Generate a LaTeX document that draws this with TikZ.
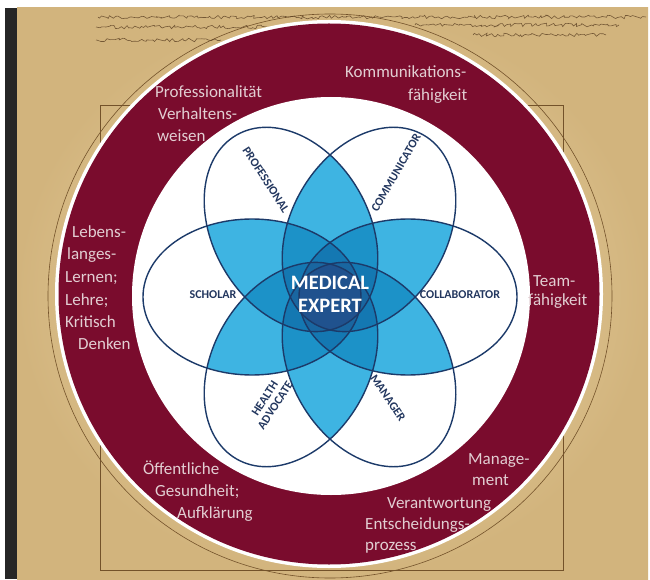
\documentclass[tikz,border=0pt]{standalone}
\usepackage{fontspec}
\setmainfont{Carlito}
\usetikzlibrary{calc,decorations.pathmorphing}
\definecolor{maroon}{RGB}{122,12,45}
\definecolor{parchA}{RGB}{238,220,176}
\definecolor{parchB}{RGB}{210,180,125}
\definecolor{ink}{RGB}{115,82,42}
\definecolor{scrib}{RGB}{85,58,30}
\definecolor{bandtext}{RGB}{226,206,210}
\definecolor{navy}{RGB}{28,58,105}
\definecolor{labelc}{RGB}{35,55,95}
\definecolor{bA}{RGB}{62,180,226}
\definecolor{bB}{RGB}{28,146,200}
\definecolor{bC}{RGB}{20,120,178}
\definecolor{bD}{RGB}{25,102,160}
\definecolor{bE}{RGB}{32,82,142}
\newcommand\pc{78}
\newcommand\pa{109}
\newcommand\pb{78}
\newcommand\clippetal[1]{\clip[rotate around={#1:(FC)}] ($(FC)+(\pc,0)$) ellipse [x radius=\pa pt, y radius=\pb pt];}
\begin{document}
\begin{tikzpicture}[x=1pt,y=1pt,
  bandtxt/.style={text=bandtext, font=\fontsize{17}{20}\selectfont, inner sep=0pt, anchor=base west},
  petaltxt/.style={text=labelc, font=\bfseries\fontsize{12}{12.5}\selectfont, inner sep=0pt, align=center},
  petalline/.style={draw=navy, line width=1.4pt},
  sketch/.style={draw=ink, line width=0.6pt},
  scribble/.style={draw=scrib, line width=0.6pt, opacity=0.75, decorate, decoration={random steps, amplitude=1.8pt, segment length=2.5pt}}]
\useasboundingbox (0,0) rectangle (650,579);
\fill[white] (0,0) rectangle (650,579);
\shade[inner color=parchA, outer color=parchB] (17,0) rectangle (648,571);
\fill[black!85] (5,0) rectangle (17,571);
% old drawing
\draw[sketch] (100,474) -- (100,9) -- (563,9) -- (563,474) -- cycle;
\draw[sketch] (330,283) circle (282);
\draw[scribble] (98,562) -- (646,562);
\draw[scribble] (96,552) -- (267,552);
\draw[scribble] (96,539) -- (221,539);
\draw[scribble] (415,554) -- (619,554);
\draw[scribble] (473,544) -- (606,544);
% rings
\fill[white] (329,285) circle (274);
\fill[maroon] (329,285) circle (270.5);
\fill[white] (331,283) circle (199);
\coordinate (FC) at (330,282);
% overlap layers
\foreach \i in {0,...,4}{
  \pgfmathtruncatemacro\ii{\i+1}
  \foreach \j in {\ii,...,5}{
    \begin{scope}
      \pgfmathtruncatemacro\ai{\i*60}\pgfmathtruncatemacro\aj{\j*60}
      \clippetal{\ai}\clippetal{\aj}
      \fill[bA] (0,0) rectangle (650,579);
    \end{scope}
  }
}
\foreach \i in {0,...,3}{
  \pgfmathtruncatemacro\ii{\i+1}
  \foreach \j in {\ii,...,4}{
    \pgfmathtruncatemacro\jj{\j+1}
    \foreach \k in {\jj,...,5}{
      \begin{scope}
        \pgfmathtruncatemacro\ai{\i*60}\pgfmathtruncatemacro\aj{\j*60}\pgfmathtruncatemacro\ak{\k*60}
        \clippetal{\ai}\clippetal{\aj}\clippetal{\ak}
        \fill[bB] (0,0) rectangle (650,579);
      \end{scope}
    }
  }
}
\foreach \i in {0,...,2}{
  \pgfmathtruncatemacro\ii{\i+1}
  \foreach \j in {\ii,...,3}{
    \pgfmathtruncatemacro\jj{\j+1}
    \foreach \k in {\jj,...,4}{
      \pgfmathtruncatemacro\kk{\k+1}
      \foreach \l in {\kk,...,5}{
        \begin{scope}
          \pgfmathtruncatemacro\ai{\i*60}\pgfmathtruncatemacro\aj{\j*60}\pgfmathtruncatemacro\ak{\k*60}\pgfmathtruncatemacro\al{\l*60}
          \clippetal{\ai}\clippetal{\aj}\clippetal{\ak}\clippetal{\al}
          \fill[bC] (0,0) rectangle (650,579);
        \end{scope}
      }
    }
  }
}
\foreach \m in {0,...,5}{
  \begin{scope}
    \foreach \n in {0,...,5}{
      \pgfmathtruncatemacro\test{\n==\m ? 0 : 1}
      \ifnum\test=1 \pgfmathtruncatemacro\an{\n*60}\clippetal{\an}\fi
    }
    \fill[bD] (0,0) rectangle (650,579);
  \end{scope}
}
\begin{scope}
  \clippetal{0}\clippetal{60}\clippetal{120}\clippetal{180}\clippetal{240}\clippetal{300}
  \fill[bE] (0,0) rectangle (650,579);
\end{scope}
\foreach \k in {0,...,5}{
  \pgfmathtruncatemacro\ak{\k*60}
  \draw[petalline, rotate around={\ak:(FC)}] ($(FC)+(\pc,0)$) ellipse [x radius=\pa pt, y radius=\pb pt];
}
% petal labels
\node[petaltxt, rotate=-57] (prof) at (266,399) {PROFESSIONAL};
\node[petaltxt, rotate=60] (comm) at (396,406) {COMMUNICATOR};
\node[petaltxt] (schol) at (213,284) {SCHOLAR};
\node[petaltxt] (coll) at (460,284) {COLLABORATOR};
\node[petaltxt, rotate=57] (health) at (270,177) {HEALTH\\ADVOCATE};
\node[petaltxt, rotate=-56] (mgr) at (388,181) {MANAGER};
\node[text=white, font=\bfseries\fontsize{20.5}{23}\selectfont, align=center, inner sep=0pt] (med) at (330,285) {MEDICAL\\EXPERT};
% band texts
\node[bandtxt] (t1) at (155,481) {Professionalität};
\node[bandtxt] (t2) at (158,459) {Verhaltens-};
\node[bandtxt] (t3) at (157,437) {weisen};
\node[bandtxt] (t4) at (345,501) {Kommunikations-};
\node[bandtxt] (t5) at (408,478) {fähigkeit};
\node[bandtxt] (l1) at (72,341) {Lebens-};
\node[bandtxt] (l2) at (67,319) {langes-};
\node[bandtxt] (l3) at (65,296) {Lernen;};
\node[bandtxt] (l4) at (65,274) {Lehre;};
\node[bandtxt] (l5) at (65,252) {Kritisch};
\node[bandtxt] (l6) at (78,230) {Denken};
\node[bandtxt] (r1) at (533,293) {Team-};
\node[bandtxt] (r2) at (528,273) {fähigkeit};
\node[bandtxt] (b1) at (143,105) {Öffentliche};
\node[bandtxt] (b2) at (155,83) {Gesundheit;};
\node[bandtxt] (b3) at (177,61) {Aufklärung};
\node[bandtxt] (m1) at (468,115) {Manage-};
\node[bandtxt] (m2) at (472,94) {ment};
\node[bandtxt] (m3) at (387,71) {Verantwortung};
\node[bandtxt] (m4) at (365,50) {Entscheidungs-};
\node[bandtxt] (m5) at (365,29) {prozess};
\end{tikzpicture}
\end{document}
